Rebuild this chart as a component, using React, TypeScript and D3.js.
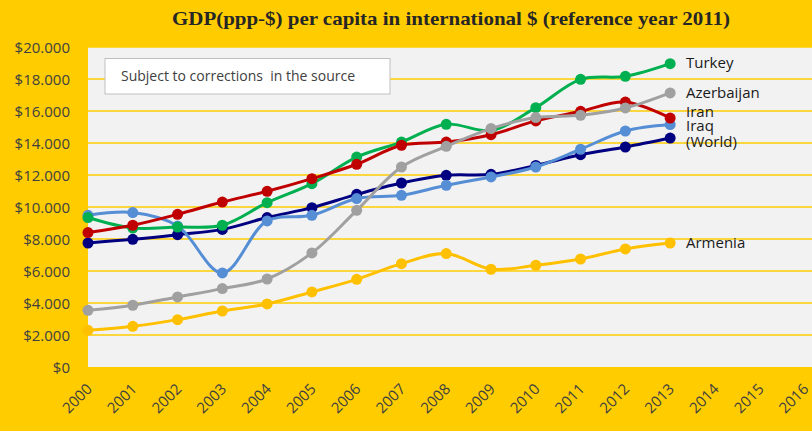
import React from "react";
import * as d3 from "d3";

const years = d3.range(2000, 2017).map(String);
const dataYears = d3.range(2000, 2014).map(String);
const yTicks = [0, 2000, 4000, 6000, 8000, 10000, 12000, 14000, 16000, 18000, 20000];

const turkey = [9340, 8680, 8750, 8860, 10270, 11460, 13120, 14060, 15170, 14790, 16210, 17980, 18170, 18960];
const iran = [8400, 8860, 9540, 10310, 10980, 11770, 12670, 13860, 14060, 14520, 15380, 15980, 16560, 15560];
const azerbaijan = [3540, 3860, 4380, 4900, 5500, 7130, 9790, 12500, 13790, 14900, 15590, 15730, 16190, 17130];
const iraq = [9480, 9650, 8810, 5880, 9130, 9480, 10530, 10730, 11360, 11880, 12500, 13610, 14750, 15150];
const world = [7750, 7980, 8270, 8600, 9340, 9960, 10790, 11500, 11980, 12040, 12600, 13270, 13750, 14310];
const armenia = [2290, 2540, 2960, 3500, 3940, 4690, 5480, 6460, 7090, 6110, 6360, 6750, 7380, 7750];

const seriesNames = ["Armenia", "(World)", "Iraq", "Turkey", "Iran", "Azerbaijan"];
const seriesValues = [armenia, world, iraq, turkey, iran, azerbaijan];
const seriesColors = ["#FFC000", "#000080", "#558ED5", "#00B050", "#C00000", "#A0A0A0"];
const labelOffsets: Record<string, number> = {
  Armenia: 5, "(World)": 8.7, Iraq: 6.4, Turkey: 4.7, Iran: -1.3, Azerbaijan: 5.4,
};

const W = 812, H = 431;
const plotLeft = 88, plotRight = 812, plotTop = 47, plotBottom = 367;

export default function App() {
  const x = d3.scalePoint<string>().domain(years).range([plotLeft, 804.5]);
  const y = d3.scaleLinear().domain([0, 20000]).range([plotBottom, plotTop]);
  const line = d3
    .line<number>()
    .x((_, i) => x(dataYears[i])!)
    .y((d) => y(d))
    .curve(d3.curveCatmullRom.alpha(0.5));
  const fmt = (v: number) => "$" + (v === 0 ? "0" : d3.format(",")(v).replace(/,/g, "."));
  const font = "'Open Sans', 'Noto Sans', sans-serif";

  return (
    <svg width={W} height={H} style={{ position: "absolute", left: 0, top: 0 }}>
      <rect x={0} y={0} width={W} height={H} fill="#FFCC00" />
      <rect x={plotLeft} y={plotTop} width={plotRight - plotLeft} height={plotBottom - plotTop} fill="#F2F2F2" />
      {yTicks.filter((t) => t > 0).map((t) => (
        <line key={t} x1={plotLeft} x2={plotRight} y1={y(t)} y2={y(t)} stroke="#FFCC00" strokeWidth={1.3} />
      ))}
      <text x={451} y={25} textAnchor="middle" fontFamily="'Liberation Serif', 'Times New Roman', serif"
        fontWeight="bold" fontSize={19} fill="#262626" textLength={558} lengthAdjust="spacingAndGlyphs">
        GDP(ppp-$) per capita in international $ (reference year 2011)
      </text>
      {yTicks.map((t) => (
        <text key={t} x={70} y={y(t) + 5.5} textAnchor="end" fontFamily={font} fontSize={15} fill="#404040">
          {fmt(t)}
        </text>
      ))}
      {years.map((yr) => (
        <text key={yr} transform={`translate(${x(yr)! + 5},${plotBottom + 23}) rotate(-45)`} textAnchor="end"
          fontFamily={font} fontSize={15} fill="#404040">
          {yr}
        </text>
      ))}
      <rect x={105} y={58.5} width={285} height={35.5} fill="#FFFFFF" stroke="#BFBFBF" strokeWidth={1} />
      <text x={121} y={81} fontFamily={font} fontSize={14} fill="#404040" style={{ whiteSpace: "pre" }}>
        Subject to corrections  in the source
      </text>
      {seriesValues.map((vals, si) => (
        <g key={seriesNames[si]}>
          <path d={line(vals)!} fill="none" stroke={seriesColors[si]} strokeWidth={3} />
          {vals.map((v, i) => (
            <circle key={i} cx={x(dataYears[i])!} cy={y(v)} r={5.5} fill={seriesColors[si]} />
          ))}
        </g>
      ))}
      {seriesValues.map((vals, si) => {
        const name = seriesNames[si];
        const last = vals[vals.length - 1];
        return (
          <text key={name} x={686} y={y(last) + labelOffsets[name]} fontFamily={font} fontSize={15} fill="#1a1a1a">
            {name}
          </text>
        );
      })}
    </svg>
  );
}
